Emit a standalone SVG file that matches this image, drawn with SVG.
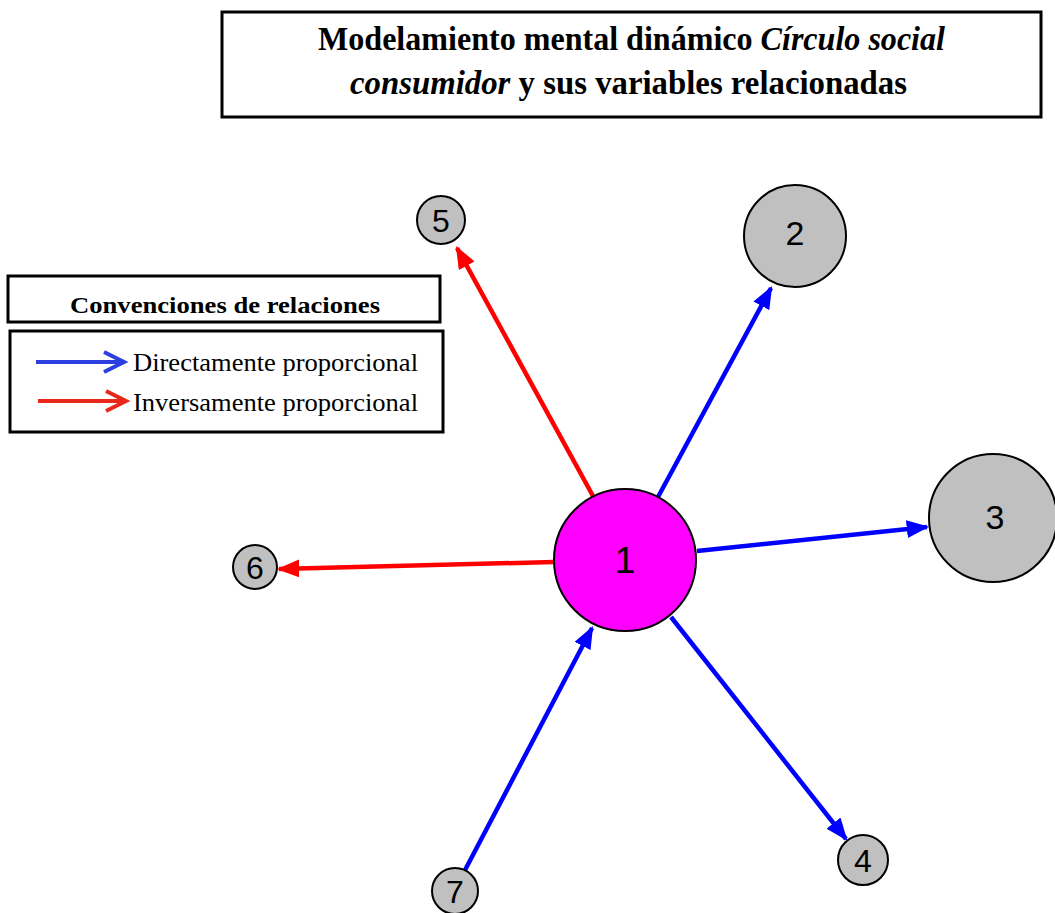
<svg xmlns="http://www.w3.org/2000/svg" width="1055" height="913" viewBox="0 0 1055 913">
<style>
.box{fill:#fff;stroke:#000;stroke-width:3}
.title{font-family:"Liberation Serif",serif;font-weight:bold;font-size:33px;fill:#000}
.leg{font-family:"Liberation Serif",serif;font-size:26px;fill:#000}
.node circle{stroke:#000;stroke-width:2}
.grey{fill:#c0c0c0}
.lbl{font-family:"Liberation Sans",Arial,sans-serif;fill:#000;text-anchor:middle}
.b{stroke:#0000ff;stroke-width:4.5;fill:none}
.r{stroke:#ff0000;stroke-width:4.5;fill:none}
</style>
<defs>
<marker id="ab" markerWidth="5" markerHeight="4" refX="4.5" refY="2" orient="auto" markerUnits="strokeWidth"><path d="M0,0 L5,2 L0,4 z" fill="#0000ff"/></marker>
<marker id="ar" markerWidth="5" markerHeight="4" refX="4.5" refY="2" orient="auto" markerUnits="strokeWidth"><path d="M0,0 L5,2 L0,4 z" fill="#ff0000"/></marker>
</defs>
<rect width="1055" height="913" fill="#fff"/>
<g id="title">
<rect class="box" x="222" y="12" width="819" height="105"/>
<text class="title" x="318" y="50" textLength="627" lengthAdjust="spacingAndGlyphs">Modelamiento mental dinámico <tspan font-style="italic">Círculo social</tspan></text>
<text class="title" x="350" y="94" textLength="557" lengthAdjust="spacingAndGlyphs"><tspan font-style="italic">consumidor</tspan>  y sus variables relacionadas</text>
</g>
<g id="legend">
<rect class="box" x="8" y="276" width="432" height="46"/>
<text x="70" y="313" textLength="310" lengthAdjust="spacingAndGlyphs" style="font-family:'Liberation Serif',serif;font-weight:bold;font-size:23px">Convenciones de relaciones</text>
<rect class="box" x="10" y="331" width="433" height="101"/>
<path d="M36,362 H120" stroke="#2b3fe0" stroke-width="4" fill="none"/>
<path d="M104,352 L124,362 L104,372" stroke="#2b3fe0" stroke-width="4" fill="none"/>
<text class="leg" x="133" y="371" textLength="285" lengthAdjust="spacingAndGlyphs">Directamente proporcional</text>
<path d="M38,401 H122" stroke="#e8281a" stroke-width="4" fill="none"/>
<path d="M106,391 L126,401 L106,411" stroke="#e8281a" stroke-width="4" fill="none"/>
<text class="leg" x="133" y="411" textLength="285" lengthAdjust="spacingAndGlyphs">Inversamente proporcional</text>
</g>
<g id="connectors">
<line class="b" x1="658" y1="497" x2="771" y2="288" marker-end="url(#ab)"/>
<line class="b" x1="697" y1="551" x2="927" y2="527" marker-end="url(#ab)"/>
<line class="b" x1="671" y1="617" x2="846" y2="839" marker-end="url(#ab)"/>
<line class="r" x1="593" y1="496" x2="457" y2="248" marker-end="url(#ar)"/>
<line class="r" x1="554" y1="562" x2="279" y2="569" marker-end="url(#ar)"/>
<line class="b" x1="464" y1="872" x2="592" y2="628" marker-end="url(#ab)"/>
</g>
<g id="node1" class="node"><circle cx="625" cy="560" r="71" fill="#ff00ff"/><text class="lbl" x="625" y="573" font-size="37">1</text></g>
<g id="node2" class="node"><circle class="grey" cx="795" cy="236" r="51"/><text class="lbl" x="795" y="245" font-size="34">2</text></g>
<g id="node3" class="node"><circle class="grey" cx="993" cy="518" r="64"/><text class="lbl" x="995" y="529" font-size="34">3</text></g>
<g id="node4" class="node"><circle class="grey" cx="863" cy="860" r="25"/><text class="lbl" x="863" y="872" font-size="32">4</text></g>
<g id="node5" class="node"><circle class="grey" cx="441" cy="220" r="24"/><text class="lbl" x="441" y="232" font-size="32">5</text></g>
<g id="node6" class="node"><circle class="grey" cx="255" cy="567" r="22"/><text class="lbl" x="255" y="579" font-size="32">6</text></g>
<g id="node7" class="node"><circle class="grey" cx="455" cy="891" r="23"/><text class="lbl" x="455" y="903" font-size="32">7</text></g>
</svg>
